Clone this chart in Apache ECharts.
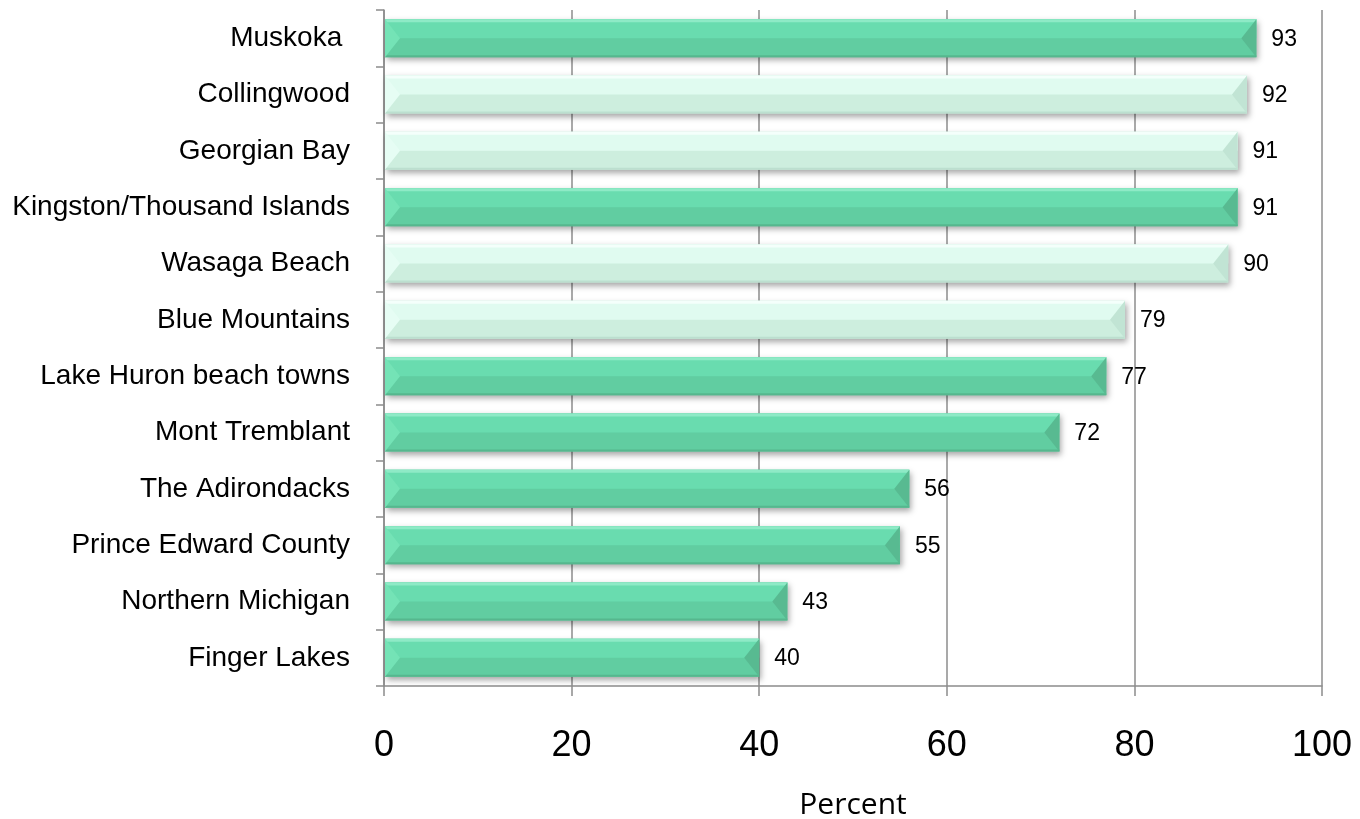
<!DOCTYPE html>
<html>
<head>
<meta charset="utf-8">
<title>Percent by destination</title>
<script src="https://cdn.jsdelivr.net/npm/echarts@6/dist/echarts.min.js"></script>
<style>
  html, body { margin: 0; padding: 0; background: #ffffff; }
  #chart { width: 1360px; height: 819px; }
</style>
</head>
<body>
<div id="chart"></div>
<script>
// Destinations, top to bottom
const destinations = [
  'Muskoka ', 'Collingwood', 'Georgian Bay', 'Kingston/Thousand Islands',
  'Wasaga Beach', 'Blue Mountains', 'Lake Huron beach towns', 'Mont Tremblant',
  'The Adirondacks', 'Prince Edward County', 'Northern Michigan', 'Finger Lakes'
];
// Percent for each destination
const percents = [93, 92, 91, 91, 90, 79, 77, 72, 56, 55, 43, 40];
// Which bars use the pale shade (1) versus the deep green (0)
const paleShade = [0, 1, 1, 0, 1, 1, 0, 0, 0, 0, 0, 0];
// Value axis ticks
const percentTicks = [0, 20, 40, 60, 80, 100];

const palettes = {
  deep: {
    upper: '#69dcaf', lower: '#61cda1', top: '#8eeac6', bottom: '#56b78e',
    left: '#74e3b6', right: '#58ba91'
  },
  pale: {
    upper: '#e0fbf0', lower: '#cdeede', top: '#f4fffb', bottom: '#bcdfcf',
    left: '#e6fdf4', right: '#c1e4d4'
  }
};

const seriesData = percents.map((v, i) => [v, i, paleShade[i]]);

function renderBar(params, api) {
  const val = api.value(0);
  const cat = api.value(1);
  const pal = api.value(2) ? palettes.pale : palettes.deep;
  const start = api.coord([0, cat]);
  const end = api.coord([val, cat]);
  const h = api.size([0, 1])[1] * 0.675;
  const x0 = start[0] + 1, x1 = end[0];
  const y0 = start[1] - h / 2, y1 = start[1] + h / 2, ym = start[1];
  const bx = 15;
  return {
    type: 'group',
    children: [
      { type: 'rect', shape: { x: x0, y: y0, width: x1 - x0, height: h },
        style: { fill: pal.lower, shadowBlur: 6, shadowOffsetX: 2, shadowOffsetY: 3,
                 shadowColor: 'rgba(0,0,0,0.35)' } },
      { type: 'rect', shape: { x: x0, y: y0, width: x1 - x0, height: ym - y0 },
        style: { fill: pal.upper } },
      { type: 'rect', shape: { x: x0, y: y0, width: x1 - x0, height: 3 },
        style: { fill: pal.top } },
      { type: 'rect', shape: { x: x0, y: y1 - 2, width: x1 - x0, height: 2 },
        style: { fill: pal.bottom } },
      { type: 'polygon', shape: { points: [[x0, y0], [x0 + bx, ym], [x0, y1]] },
        style: { fill: pal.left } },
      { type: 'polygon', shape: { points: [[x1, y0], [x1 - bx, ym], [x1, y1]] },
        style: { fill: pal.right } },
      { type: 'text', style: { x: x1 + 15, y: ym + 1, text: String(val),
        font: '23px "Liberation Sans", Arial, sans-serif', fill: '#000',
        verticalAlign: 'middle', align: 'left' } }
    ]
  };
}

const chart = echarts.init(document.getElementById('chart'), null, { renderer: 'canvas' });
chart.setOption({
  backgroundColor: '#ffffff',
  animation: false,
  grid: { left: 384, right: 38, top: 10, bottom: 133, containLabel: false,
          outerBoundsMode: 'none' },
  xAxis: {
    type: 'value',
    min: percentTicks[0],
    max: percentTicks[percentTicks.length - 1],
    interval: percentTicks[1] - percentTicks[0],
    name: 'Percent',
    nameLocation: 'middle',
    nameGap: 104,
    nameTextStyle: { fontFamily: '"Open Sans", sans-serif', fontSize: 30, color: '#000' },
    axisLine: { show: true, lineStyle: { color: '#8c8c8c', width: 1.5 } },
    axisTick: { show: true, length: 10, lineStyle: { color: '#8c8c8c', width: 1.5 } },
    axisLabel: { fontFamily: '"Liberation Sans", Arial, sans-serif', fontSize: 36,
                 color: '#000', margin: 42 },
    splitLine: { show: true, lineStyle: { color: '#8c8c8c', width: 1.5 } }
  },
  yAxis: {
    type: 'category',
    data: destinations,
    inverse: true,
    axisLine: { show: true, lineStyle: { color: '#8c8c8c', width: 1.5 } },
    axisTick: { show: true, length: 8, lineStyle: { color: '#8c8c8c', width: 1.5 } },
    axisLabel: { fontFamily: '"Liberation Sans", Arial, sans-serif', fontSize: 28,
                 color: '#000', margin: 34 },
    splitLine: { show: false }
  },
  series: [{
    type: 'custom',
    renderItem: renderBar,
    encode: { x: 0, y: 1 },
    data: seriesData,
    z: 3
  }]
});
</script>
</body>
</html>
